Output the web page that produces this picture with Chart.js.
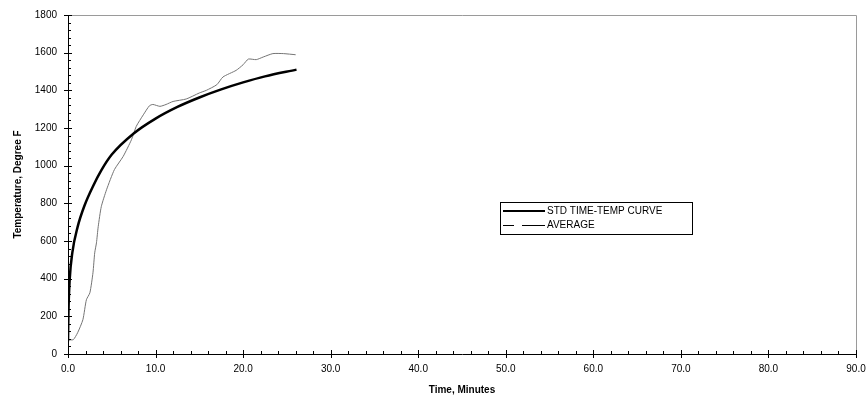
<!DOCTYPE html>
<html lang="en">
<head>
    <meta charset="UTF-8">
    <title>Temperature vs Time</title>
    <script src="https://cdn.jsdelivr.net/npm/chart.js"></script>
    <style>
        html, body { margin: 0; padding: 0; background: #fff; }
        #wrap { width: 866px; height: 397px; position: relative; }
    </style>
</head>
<body>
    <div id="wrap"><canvas id="tempChart"></canvas></div>

    <script>
        // values
        const stdTime = [0, 0.05, 0.2, 0.5, 1.1, 1.9, 2.9, 3.8, 5.0, 7.5, 10.0, 12.5, 15.0, 17.5, 20.0, 22.5, 26.1];
        const stdTemp = [68, 220, 400, 540, 675, 790, 895, 975, 1059, 1171, 1250, 1312, 1362, 1405, 1442, 1474, 1510];

        const avgTime = [0, 0.6, 1.1, 1.7, 2.1, 2.5, 2.85, 3.05, 3.25, 3.45, 3.8, 4.4, 5.3, 6.3, 7.25, 7.8, 8.6, 9.3, 9.7, 10.5, 11.2, 12.0, 13.5, 15.0, 15.8, 17.0, 17.7, 19.2, 20.0, 20.6, 21.5, 22.3, 23.4, 24.6, 26.0];
        const avgTemp = [76, 76, 113, 182, 288, 325, 431, 537, 590, 676, 782, 872, 979, 1049, 1138, 1209, 1270, 1318, 1325, 1315, 1325, 1341, 1354, 1386, 1400, 1430, 1471, 1506, 1536, 1566, 1563, 1577, 1595, 1595, 1589];

        const xTicks = [0, 10, 20, 30, 40, 50, 60, 70, 80, 90];
        const yTicks = [0, 200, 400, 600, 800, 1000, 1200, 1400, 1600, 1800];
        const seriesNames = ['STD TIME-TEMP CURVE', 'AVERAGE'];

        const toPoints = (xs, ys) => xs.map((x, i) => ({ x: x, y: ys[i] }));

        // frame, tick marks and the boxed legend inside the plot
        const decorations = {
            id: 'decorations',
            afterDraw(chart) {
                const { ctx, chartArea: a, scales } = chart;
                const xs = scales.x, ys = scales.y;
                ctx.save();

                ctx.strokeStyle = '#9a9a9a';
                ctx.lineWidth = 1;
                ctx.beginPath();
                ctx.moveTo(a.left, a.top + 0.5);
                ctx.lineTo(a.right + 0.5, a.top + 0.5);
                ctx.lineTo(a.right + 0.5, a.bottom);
                ctx.stroke();

                ctx.strokeStyle = '#000';
                ctx.lineWidth = 1;
                ctx.beginPath();
                for (let v = 0; v <= 90; v += 2) {
                    const px = Math.round(xs.getPixelForValue(v)) + 0.5;
                    if (v % 10 === 0) {
                        ctx.moveTo(px, a.bottom - 4);
                        ctx.lineTo(px, a.bottom + 4);
                    } else {
                        ctx.moveTo(px, a.bottom - 3);
                        ctx.lineTo(px, a.bottom);
                    }
                }
                for (let v = 0; v <= 1800; v += 40) {
                    const py = Math.round(ys.getPixelForValue(v)) + 0.5;
                    if (v % 200 === 0) {
                        ctx.moveTo(a.left - 4, py);
                        ctx.lineTo(a.left + 4, py);
                    } else {
                        ctx.moveTo(a.left, py);
                        ctx.lineTo(a.left + 3, py);
                    }
                }
                ctx.stroke();

                // legend
                const bx = 500.5, by = 202.5, bw = 192, bh = 32;
                ctx.fillStyle = '#fff';
                ctx.fillRect(bx, by, bw, bh);
                ctx.strokeStyle = '#000';
                ctx.lineWidth = 1;
                ctx.strokeRect(bx, by, bw, bh);

                ctx.font = '10px "Liberation Sans", Arial, sans-serif';
                ctx.fillStyle = '#000';
                ctx.textBaseline = 'middle';
                const ds = chart.data.datasets;

                let ry = 211;
                ctx.strokeStyle = ds[0].borderColor;
                ctx.lineWidth = 2;
                ctx.beginPath();
                ctx.moveTo(503, ry);
                ctx.lineTo(545, ry);
                ctx.stroke();
                ctx.fillText(ds[0].label, 547, ry);

                ry = 225.5;
                ctx.strokeStyle = '#000';
                ctx.lineWidth = 1;
                ctx.beginPath();
                ctx.moveTo(503, ry);
                ctx.lineTo(514, ry);
                ctx.moveTo(522, ry);
                ctx.lineTo(545, ry);
                ctx.stroke();
                ctx.fillText(ds[1].label, 547, ry);

                ctx.restore();
            }
        };

        const tickFont = { family: '"Liberation Sans", Arial, sans-serif', size: 10 };
        const titleFont = { family: '"Liberation Sans", Arial, sans-serif', size: 10, weight: 'bold' };

        const chart = new Chart(document.getElementById('tempChart'), {
            type: 'line',
            data: {
                datasets: [
                    {
                        label: seriesNames[0],
                        data: toPoints(stdTime, stdTemp),
                        borderColor: '#000',
                        borderWidth: 2.5,
                        pointRadius: 0,
                        cubicInterpolationMode: 'monotone',
                        fill: false
                    },
                    {
                        label: seriesNames[1],
                        data: toPoints(avgTime, avgTemp),
                        borderColor: '#747474',
                        borderWidth: 1,
                        pointRadius: 0,
                        tension: 0.2,
                        fill: false
                    }
                ]
            },
            options: {
                responsive: true,
                maintainAspectRatio: false,
                animation: false,
                layout: { padding: { top: 15, right: 10, left: 0, bottom: 0 } },
                plugins: {
                    legend: { display: false },
                    tooltip: { enabled: false }
                },
                scales: {
                    x: {
                        type: 'linear',
                        min: 0,
                        max: 90,
                        afterBuildTicks: s => { s.ticks = xTicks.map(v => ({ value: v })); },
                        afterFit: s => { s.height = 43; s.paddingLeft = 0; s.paddingRight = 0; },
                        grid: { display: false, drawTicks: false },
                        border: { display: true, color: '#000', width: 1 },
                        ticks: {
                            color: '#000',
                            font: tickFont,
                            padding: 9,
                            maxRotation: 0,
                            autoSkip: false,
                            callback: v => Number(v).toFixed(1)
                        },
                        title: {
                            display: true,
                            text: 'Time, Minutes',
                            color: '#000',
                            font: titleFont,
                            padding: { top: 0, bottom: 1 }
                        }
                    },
                    y: {
                        type: 'linear',
                        min: 0,
                        max: 1800,
                        afterBuildTicks: s => { s.ticks = yTicks.map(v => ({ value: v })); },
                        afterFit: s => { s.width = 68; s.paddingTop = 0; s.paddingBottom = 0; },
                        grid: { display: false, drawTicks: false },
                        border: { display: true, color: '#000', width: 1 },
                        ticks: {
                            color: '#000',
                            font: tickFont,
                            padding: 11,
                            autoSkip: false,
                            callback: v => String(v)
                        },
                        title: {
                            display: true,
                            text: 'Temperature, Degree F',
                            color: '#000',
                            font: titleFont,
                            padding: { top: 12, bottom: 0 }
                        }
                    }
                }
            },
            plugins: [decorations]
        });
    </script>
</body>
</html>
